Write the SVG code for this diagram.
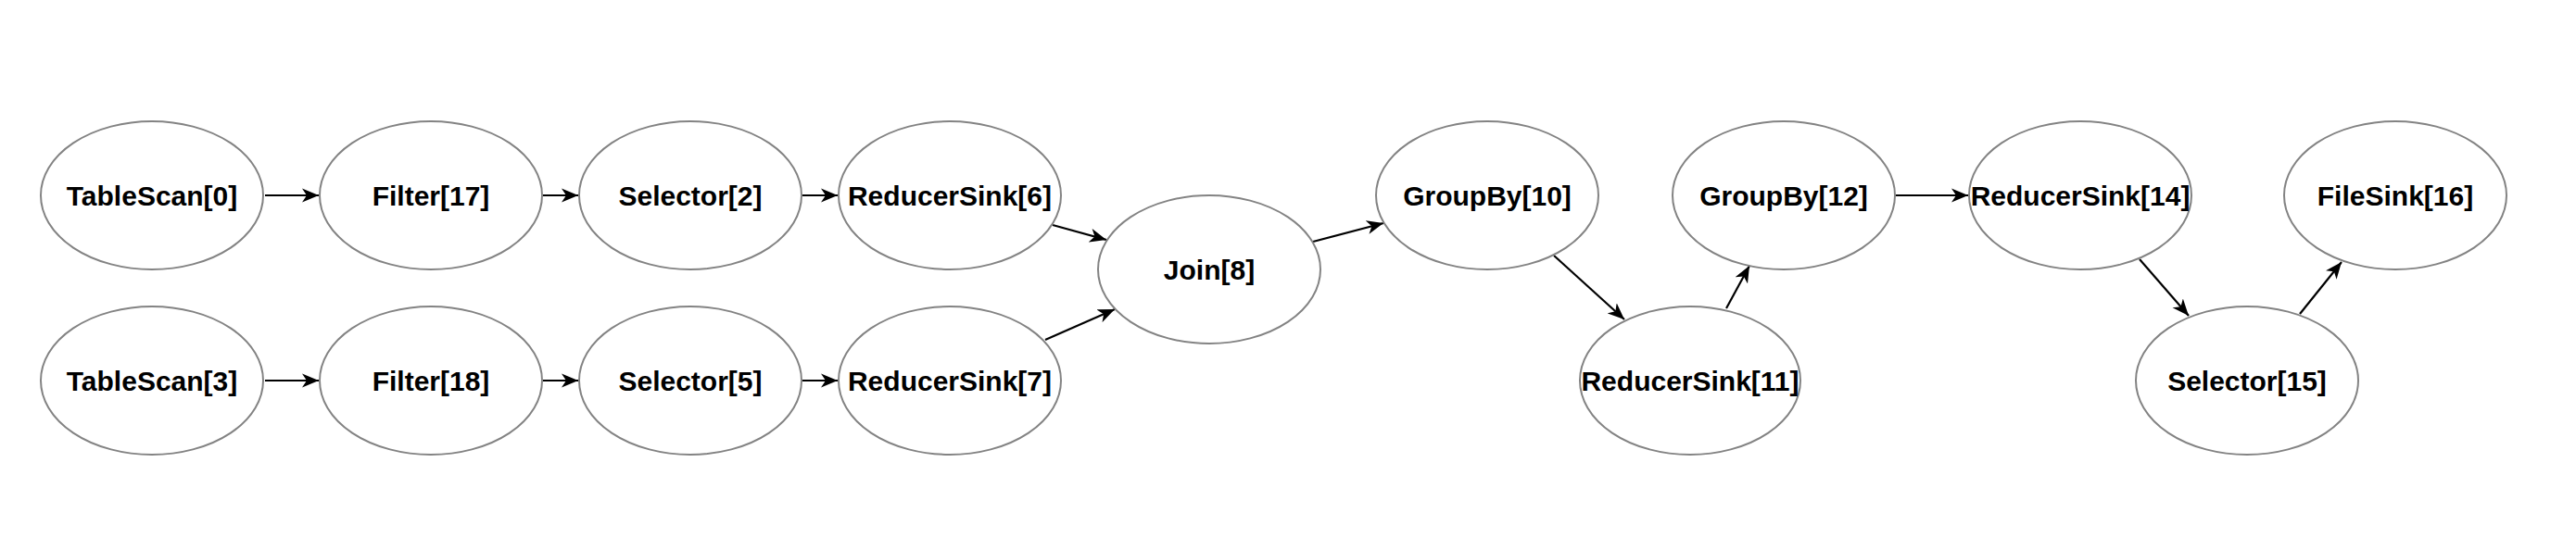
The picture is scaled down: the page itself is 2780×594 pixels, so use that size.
<svg xmlns="http://www.w3.org/2000/svg" width="2780" height="594" viewBox="0 0 2780 594">
<style>
.n ellipse{fill:#ffffff;stroke:#838383;stroke-width:2}
.n text{font-family:"Liberation Sans",Arial,Helvetica,sans-serif;font-size:30px;font-weight:bold;fill:#000000;text-anchor:middle}
#edges line{stroke:#000000;stroke-width:2.2;fill:none;marker-end:url(#arr)}
</style>
<defs>
<marker id="arr" markerUnits="userSpaceOnUse" markerWidth="20" markerHeight="16" refX="18" refY="8" orient="auto" viewBox="0 0 20 16">
<path d="M0,0.5 L18,8 L0,15.5 L5,8 Z" fill="#000000"/>
</marker>
</defs>
<rect width="2780" height="594" fill="#ffffff"/>
<g id="edges">
<line x1="286" y1="211" x2="344" y2="211"/>
<line x1="586" y1="211" x2="624" y2="211"/>
<line x1="866" y1="211" x2="904" y2="211"/>
<line x1="286" y1="411" x2="344" y2="411"/>
<line x1="586" y1="411" x2="624" y2="411"/>
<line x1="866" y1="411" x2="904" y2="411"/>
<line x1="1136" y1="243" x2="1194" y2="259"/>
<line x1="1128" y1="367" x2="1203" y2="334"/>
<line x1="1417" y1="261" x2="1493" y2="241"/>
<line x1="1677" y1="276" x2="1753" y2="345"/>
<line x1="1863" y1="333" x2="1888" y2="287"/>
<line x1="2046" y1="211" x2="2124" y2="211"/>
<line x1="2309" y1="280" x2="2362" y2="341"/>
<line x1="2482" y1="339" x2="2527" y2="283"/>
</g>
<g id="TableScan0" class="n"><ellipse cx="164" cy="211" rx="120" ry="80"/><text x="164" y="222">TableScan[0]</text></g>
<g id="Filter17" class="n"><ellipse cx="465" cy="211" rx="120" ry="80"/><text x="465" y="222">Filter[17]</text></g>
<g id="Selector2" class="n"><ellipse cx="745" cy="211" rx="120" ry="80"/><text x="745" y="222">Selector[2]</text></g>
<g id="ReducerSink6" class="n"><ellipse cx="1025" cy="211" rx="120" ry="80"/><text x="1025" y="222">ReducerSink[6]</text></g>
<g id="TableScan3" class="n"><ellipse cx="164" cy="411" rx="120" ry="80"/><text x="164" y="422">TableScan[3]</text></g>
<g id="Filter18" class="n"><ellipse cx="465" cy="411" rx="120" ry="80"/><text x="465" y="422">Filter[18]</text></g>
<g id="Selector5" class="n"><ellipse cx="745" cy="411" rx="120" ry="80"/><text x="745" y="422">Selector[5]</text></g>
<g id="ReducerSink7" class="n"><ellipse cx="1025" cy="411" rx="120" ry="80"/><text x="1025" y="422">ReducerSink[7]</text></g>
<g id="Join8" class="n"><ellipse cx="1305" cy="291" rx="120" ry="80"/><text x="1305" y="302">Join[8]</text></g>
<g id="GroupBy10" class="n"><ellipse cx="1605" cy="211" rx="120" ry="80"/><text x="1605" y="222">GroupBy[10]</text></g>
<g id="ReducerSink11" class="n"><ellipse cx="1824" cy="411" rx="119" ry="80"/><text x="1824" y="422">ReducerSink[11]</text></g>
<g id="GroupBy12" class="n"><ellipse cx="1925" cy="211" rx="120" ry="80"/><text x="1925" y="222">GroupBy[12]</text></g>
<g id="ReducerSink14" class="n"><ellipse cx="2245" cy="211" rx="120" ry="80"/><text x="2245" y="222">ReducerSink[14]</text></g>
<g id="Selector15" class="n"><ellipse cx="2425" cy="411" rx="120" ry="80"/><text x="2425" y="422">Selector[15]</text></g>
<g id="FileSink16" class="n"><ellipse cx="2585" cy="211" rx="120" ry="80"/><text x="2585" y="222">FileSink[16]</text></g>
</svg>
